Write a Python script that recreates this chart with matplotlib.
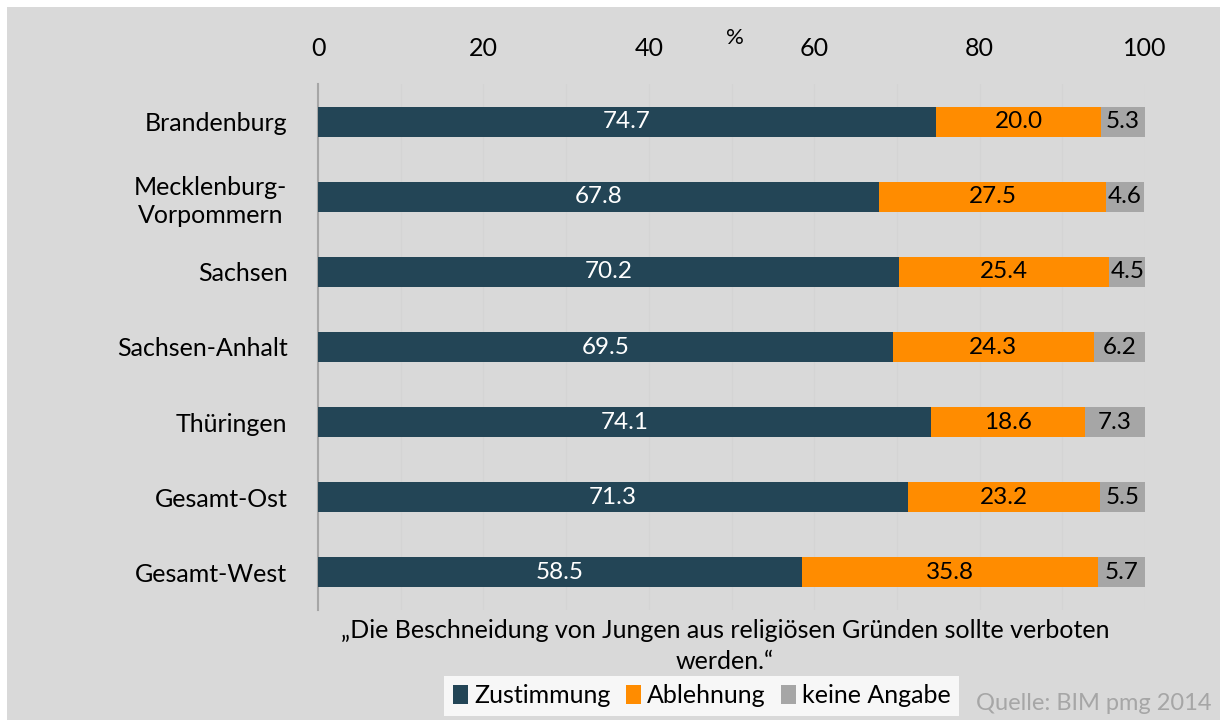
import matplotlib.pyplot as plt
from matplotlib.patches import Rectangle, Patch
import numpy as np

plt.rcParams['font.family'] = ['Lato', 'DejaVu Sans']

regions = ['Brandenburg', 'Mecklenburg-\nVorpommern', 'Sachsen', 'Sachsen-Anhalt',
           'Thüringen', 'Gesamt-Ost', 'Gesamt-West']
zustimmung = [74.7, 67.8, 70.2, 69.5, 74.1, 71.3, 58.5]
ablehnung = [20.0, 27.5, 25.4, 24.3, 18.6, 23.2, 35.8]
keine_angabe = [5.3, 4.6, 4.5, 6.2, 7.3, 5.5, 5.7]
series_names = ['Zustimmung', 'Ablehnung', 'keine Angabe']
colors = ['#234556', '#ff8c00', '#a6a6a6']
text_colors = ['white', 'black', 'black']
xticks = [0, 20, 40, 60, 80, 100]

bg = '#d9d9d9'
fig = plt.figure(figsize=(12.2, 7.2), dpi=100, facecolor='white')
fig.patches.append(Rectangle((7 / 1220, 0), 1, 1 - 7 / 720, transform=fig.transFigure,
                             facecolor=bg, edgecolor='none', zorder=-10))
ax = fig.add_axes([318 / 1220, 1 - 610 / 720, (1145 - 318) / 1220, (610 - 84) / 720])
ax.set_facecolor(bg)

y = np.arange(len(regions))
left = np.zeros(len(regions))
for vals, col, tcol in zip([zustimmung, ablehnung, keine_angabe], colors, text_colors):
    vals = np.array(vals)
    ax.barh(y, vals, left=left, height=0.4, color=col, zorder=3)
    for yi, l, v in zip(y, left, vals):
        ax.text(l + v / 2, yi, f'{v:.1f}', ha='center', va='center',
                color=tcol, fontsize=17.5, zorder=4)
    left += vals

ax.set_xlim(0, 100)
ax.set_ylim(len(regions) - 0.5, -0.5)
ax.set_yticks(y)
ax.set_yticklabels(regions, fontsize=18, ha='right', multialignment='center', linespacing=1.3)
ax.tick_params(axis='y', length=0, pad=22)
ax.xaxis.tick_top()
ax.set_xticks(xticks)
ax.set_xticklabels([str(t) for t in xticks], fontsize=18)
ax.tick_params(axis='x', which='both', length=0, pad=17)
ax.set_xticks(np.arange(0, 101, 10), minor=True)
ax.grid(axis='x', which='both', color='#d4d4d4', linewidth=0.8, zorder=0)
for s in ['top', 'right', 'bottom']:
    ax.spines[s].set_visible(False)
ax.spines['left'].set_color('#a6a6a6')
ax.spines['left'].set_linewidth(1.5)

fig.text(735 / 1220, 1 - 38 / 720, '%', ha='center', va='center', fontsize=16)
fig.text(725 / 1220, 1 - 646 / 720,
         '\u201eDie Beschneidung von Jungen aus religiösen Gründen sollte verboten\nwerden.\u201c',
         ha='center', va='center', fontsize=18, linespacing=1.4)

handles = [Patch(facecolor=c, edgecolor='none') for c in colors]
leg = fig.legend(handles, series_names, loc='lower center', bbox_to_anchor=(702 / 1220, -0.012),
                 ncol=3, fontsize=18, frameon=True, fancybox=False, handlelength=0.6,
                 handleheight=0.8, handletextpad=0.25, columnspacing=0.6, borderpad=0.35)
leg.get_frame().set_facecolor('white')
leg.get_frame().set_edgecolor('none')

fig.text(1212 / 1220, 1 - 703 / 720, 'Quelle: BIM pmg 2014', ha='right', va='center',
         fontsize=17, color='#a6a6a6')

fig.savefig('out.png', dpi=100, facecolor=fig.get_facecolor())
